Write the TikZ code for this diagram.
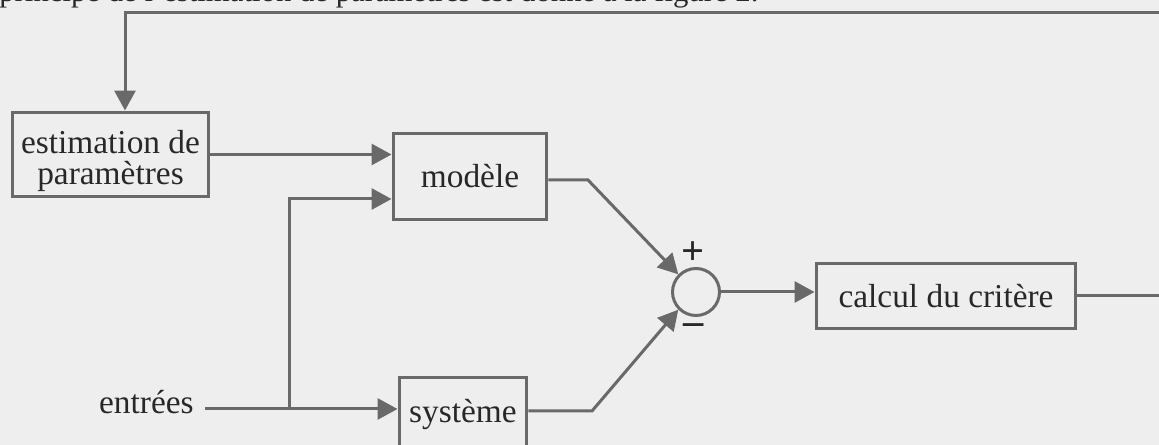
\documentclass[tikz,border=0pt]{standalone}
\usepackage{fontspec}
\setmainfont{Liberation Serif}
\usetikzlibrary{arrows.meta}
\definecolor{bgcol}{RGB}{238,238,238}
\definecolor{linecol}{RGB}{105,105,105}
\definecolor{txtcol}{RGB}{40,40,40}
\tikzset{
  blk/.style={draw=linecol, line width=0.06cm, rectangle, inner sep=0pt, align=center,
    text=txtcol, font=\fontsize{19}{17.5}\selectfont},
  conn/.style={draw=linecol, line width=0.06cm},
  arr/.style={conn, -{Triangle[length=0.40cm, width=0.42cm]}},
  sumnode/.style={draw=linecol, line width=0.06cm, circle, inner sep=0pt, minimum size=0.94cm},
  lbl/.style={text=txtcol, inner sep=0pt, align=center, font=\fontsize{19}{17.6}\selectfont},
  sgn/.style={text=txtcol, inner sep=0pt, font=\fontsize{23}{23}\selectfont\bfseries}
}
\begin{document}
\begin{tikzpicture}[x=0.02cm, y=-0.02cm]
\useasboundingbox (0,0) rectangle (1159,445);
\clip (0,0) rectangle (1159,445);
\fill[bgcol] (0,0) rectangle (1159,445);
% partly visible line of text at the top
\node[anchor=base west, inner sep=0pt, text=txtcol, font=\fontsize{17.5}{18}\selectfont] (top) at (-1,2) {principe de l'estimation de paramètres est donné à la figure 2.};
% blocks
\node[blk, minimum width=3.94cm, minimum height=1.70cm] (est) at (110.5,154.5) {};
\node[lbl] (esttxt) at (110.5,161) {estimation de\\paramètres};
\node[blk, minimum width=3.08cm, minimum height=1.74cm] (mod) at (470,176.5) {modèle};
\node[blk, minimum width=2.56cm, minimum height=1.50cm] (sys) at (463,414.5) {système};
\node[blk, minimum width=5.20cm, minimum height=1.32cm] (crit) at (946,296) {calcul du critère};
\node[sumnode] (sum) at (696,292) {};
\node[sgn] (plus) at (693,253) {+};
\node[sgn] (minus) at (694,329) {\textendash};
\node[lbl, anchor=mid east] (ent) at (194,409) {entrées};
% helper coordinates
\coordinate (entS) at (205,409);
\coordinate (junc) at (289,409);
\coordinate (juncT) at (289,199);
\coordinate (modK) at (588,180);
\coordinate (sysK) at (592,411);
\coordinate (fbR) at (1175,296);
\coordinate (fbRT) at (1175,13);
\coordinate (fbL) at (125,13);
% connectors
\draw[arr] (est.east) -- (est.east -| mod.west);
\draw[arr] (entS) -- (entS -| sys.west);
\draw[arr] (junc) -- (juncT) -- (juncT -| mod.west);
\draw[arr] (mod.east |- modK) -- (modK) -- (sum.135);
\draw[arr] (sys.east |- sysK) -- (sysK) -- (sum.225);
\draw[arr] (sum.east) -- (sum.east -| crit.west);
\draw[arr] (crit.east) -- (fbR) -- (fbRT) -- (fbL) -- (fbL |- est.north);
\end{tikzpicture}
\end{document}
